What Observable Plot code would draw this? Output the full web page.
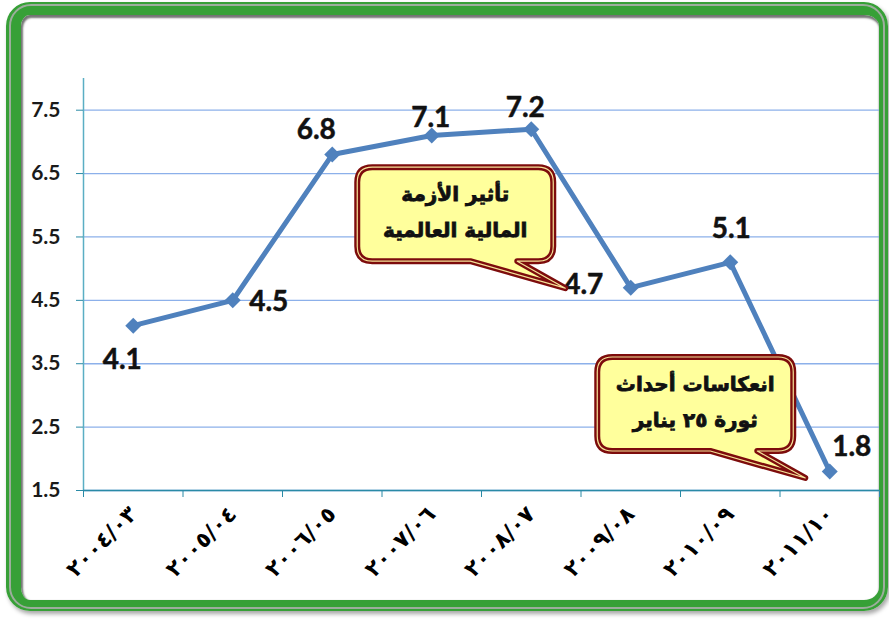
<!DOCTYPE html>
<html>
<head>
<meta charset="utf-8">
<script src="https://cdn.jsdelivr.net/npm/d3@7"></script>
<script src="https://cdn.jsdelivr.net/npm/@observablehq/plot@0.6"></script>
<style>
html, body { margin: 0; padding: 0; background: #fff; overflow: hidden; }
#wrap { position: relative; width: 889px; height: 619px; }
#frame { position: absolute; left: 6px; top: 2px; width: 882px; height: 609px; box-sizing: border-box;
  border-style: solid; border-color: #37a037; border-width: 13px 9px 11px 15px; border-radius: 24px;
  box-shadow: 2px 3px 4px rgba(0,0,0,.35), inset 1px 2px 2px 1px rgba(0,0,0,.55); }
#stripe { position: absolute; left: 9px; top: 4px; width: 876px; height: 605px; box-sizing: border-box;
  border: 2px solid rgba(175,175,175,.85); border-radius: 22px; }
#chart { position: absolute; left: 0; top: 0; }
</style>
</head>
<body>
<div id="wrap">
  <div id="frame"></div>
  <div id="stripe"></div>
  <div id="chart"></div>
</div>
<script>
// ---- data ----
const categories = ["٢٠٠٤/٠٣", "٢٠٠٥/٠٤", "٢٠٠٦/٠٥", "٢٠٠٧/٠٦", "٢٠٠٨/٠٧", "٢٠٠٩/٠٨", "٢٠١٠/٠٩", "٢٠١١/١٠"];
const growth = [4.1, 4.5, 6.8, 7.1, 7.2, 4.7, 5.1, 1.8];
const yTicks = [1.5, 2.5, 3.5, 4.5, 5.5, 6.5, 7.5];
const annotationPoints = [5, 7];
const annotationLines = [["تأثير الأزمة", "المالية العالمية"], ["انعكاسات أحداث", "ثورة ٢٥ يناير"]];

// ---- chart ----
const n = categories.length;
const data = categories.map((c, i) => ({i, c, v: growth[i]}));
const boundaries = d3.range(n + 1).map(k => k - 0.5);

const labelOffsets = [[-11, 34], [36, 2], [-16, -25], [-1, -18], [-6, -21], [-47, -3], [1, -33], [22, -24]];
const tipOffsets = [[-65, 1], [-24, 7]];

function callouts(index, scales) {
  const g = d3.create("svg:g");
  annotationPoints.forEach((k, j) => {
    const px = scales.x(k), py = scales.y(growth[k]);
    const tx = px + tipOffsets[j][0], ty = py + tipOffsets[j][1];
    const L = tx - 208, R = tx - 12, T = ty - 121, B = ty - 27, r = 15;
    const b1 = tx - 95, b2 = tx - 48;
    const d = `M${L + r},${T} H${R - r} Q${R},${T} ${R},${T + r} V${B - r} Q${R},${B} ${R - r},${B} H${b2} L${tx},${ty} L${b1},${B} H${L + r} Q${L},${B} ${L},${B - r} V${T + r} Q${L},${T} ${L + r},${T} Z`;
    g.append("path").attr("d", d).attr("fill", "#ffff9c").attr("stroke", "#7d0c0c")
      .attr("stroke-width", 6).attr("stroke-linejoin", "round");
    g.append("path").attr("d", d).attr("fill", "none").attr("stroke", "#f6e49a")
      .attr("stroke-width", 1.2).attr("stroke-linejoin", "round");
    const cx = (L + R) / 2;
    annotationLines[j].forEach((t, m) => {
      g.append("text").attr("x", cx).attr("y", T + 27 + m * 36).attr("dy", "0.35em")
        .attr("text-anchor", "middle").attr("direction", "rtl")
        .attr("font-family", "DejaVu Sans").attr("font-weight", "bold").attr("font-size", 20)
        .attr("fill", "#111").attr("stroke", "#111").attr("stroke-width", 0.8).text(t);
    });
  });
  return g.node();
}

const plot = Plot.plot({
  width: 889,
  height: 619,
  marginLeft: 83,
  marginRight: 10,
  marginTop: 78,
  marginBottom: 129,
  style: {background: "transparent", overflow: "visible"},
  x: {type: "linear", domain: [-0.5, n - 0.5]},
  y: {domain: [1.5, 8]},
  marks: [
    Plot.gridY(yTicks, {stroke: "#8cb0ea", strokeOpacity: 1, strokeWidth: 1.3}),
    Plot.ruleX([-0.5], {stroke: "#5aaec4", strokeWidth: 1.5}),
    Plot.ruleY([1.5], {stroke: "#2a8aa6", strokeWidth: 1.5}),
    Plot.axisY(yTicks, {tickSize: 7, tickPadding: 16, stroke: "#2a8aa6", fill: "#1a1a1a",
      fontSize: 21, fontWeight: "bold", fontFamily: "Lato", tickFormat: d => d.toFixed(1), label: null}),
    Plot.axisX(boundaries, {tickSize: 7, tickFormat: () => "", stroke: "#2a8aa6", label: null}),
    Plot.axisX(d3.range(n), {tickSize: 0, tickPadding: 20, tickRotate: -45, tickFormat: i => categories[i],
      fontSize: 22, fontFamily: "DejaVu Sans", fontWeight: "bold", fill: "#000", label: null}),
    Plot.line(data, {x: "i", y: "v", stroke: "#4f81bd", strokeWidth: 5}),
    Plot.dot(data, {x: "i", y: "v", symbol: "diamond2", r: 7.2, fill: "#4f81bd", stroke: null}),
    ...data.map((d, k) => Plot.text([d], {x: "i", y: "v", text: e => e.v.toFixed(1),
      dx: labelOffsets[k][0], dy: labelOffsets[k][1], fontSize: 28, fontWeight: "bold",
      fontFamily: "Lato", fill: "#111", stroke: "#111", strokeWidth: 0.5})),
    callouts
  ]
});
document.getElementById("chart").appendChild(plot);
</script>
</body>
</html>
